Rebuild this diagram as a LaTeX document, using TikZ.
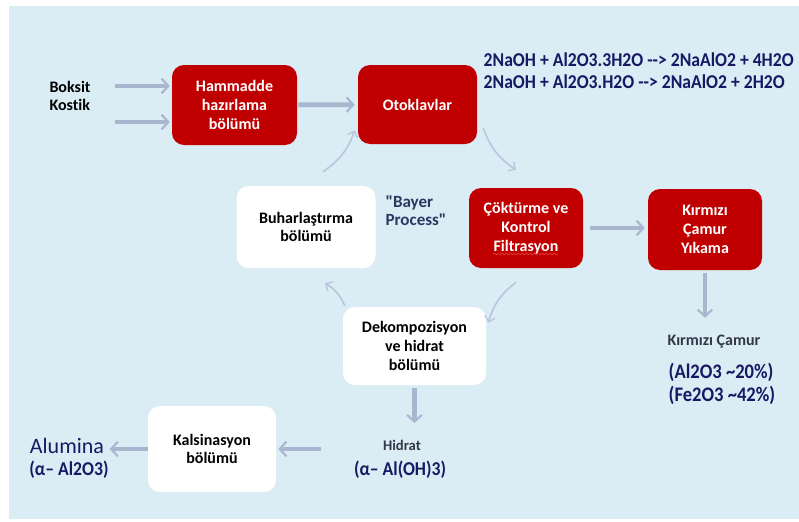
\documentclass[tikz,border=0pt]{standalone}
\usepackage{fontspec}
\setmainfont{Carlito}[Ligatures={TeX,NoCommon}]
\newfontfamily\condensedfont[FakeStretch=0.9]{Carlito}
\newfontfamily\plainfont[Ligatures=TeXOff]{Carlito}
\usepackage{tikz}
\usetikzlibrary{arrows.meta}
\usetikzlibrary{positioning}
\usetikzlibrary{decorations.pathmorphing}
\usepackage{xcolor}
\definecolor{bayerred}{RGB}{192,0,0}
\definecolor{bgblue}{RGB}{218,236,244}
\definecolor{arrowgray}{RGB}{170,181,208}
\definecolor{curvegray}{RGB}{186,197,222}
\definecolor{navytext}{RGB}{24,24,100}
\definecolor{slatetext}{RGB}{40,58,100}
\definecolor{greytext}{RGB}{50,56,72}
\definecolor{spellred}{RGB}{230,60,60}
\newcommand{\colorstep}{bayerred}
\newcommand{\colorflow}{arrowgray}
\newcommand{\colorcycle}{curvegray}
\newcommand{\px}{0.75pt}
\newcommand{\qt}{{\plainfont\symbol{34}}}
\tikzset{
    common/.style={rectangle, rounded corners=9pt, align=center, inner sep=2pt,
        font=\bfseries\fontsize{12}{14}\selectfont},
    redbox/.style={common, fill=\colorstep, text=white},
    whitebox/.style={common, fill=white, text=black},
    flow/.style={-{Straight Barb[length=5pt, width=11pt, line width=1.6pt]}, line width=3.6pt, \colorflow},
    cycle/.style={-{Straight Barb[length=4pt, width=8pt, line width=1pt]}, line width=1.2pt, \colorcycle},
    chem/.style={font=\condensedfont\bfseries\fontsize{14.7}{16.5}\selectfont, text=navytext},
    note/.style={text=greytext, font=\bfseries\fontsize{12}{14}\selectfont},
    spell/.style={spellred, line width=0.5pt, decorate, decoration={snake, segment length=3pt, amplitude=0.6pt}},
}

\begin{document}
\begin{tikzpicture}[x=\px, y=-\px]
    \useasboundingbox (0,0) rectangle (799,521);
    \fill[bgblue] (9,6) rectangle (799,519);

    \path
        (70,96) node[align=left, font=\bfseries\fontsize{12}{14}\selectfont] (inputs) {Boksit\\Kostik}
        (115,86) coordinate (boksit-in)
        (115,122) coordinate (kostik-in)
        (234.5,105) node[redbox, minimum width=125*\px, minimum height=80*\px] (hammadde) {Hammadde\\hazırlama\\bölümü}
        (417.5,104.5) node[redbox, minimum width=119*\px, minimum height=79*\px] (otoklavlar) {Otoklavlar}
        (479,71) node[chem, anchor=west, align=left] (reaction) {2NaOH + Al2O3.3H2O -{}-> 2NaAlO2 + 4H2O\\2NaOH + Al2O3.H2O -{}-> 2NaAlO2 + 2H2O}
        (306,227) node[whitebox, minimum width=139*\px, minimum height=82*\px] (buhar) {Buharlaştırma\\bölümü}
        (416,211) node[align=left, text=slatetext, font=\bfseries\fontsize{12.8}{13.5}\selectfont] (bayer) {\qt Bayer\\Process\qt}
        (526,228) node[redbox, minimum width=114*\px, minimum height=80*\px] (coktur) {Çöktürme ve\\Kontrol\\Filtrasyon}
        (705,229.5) node[redbox, minimum width=114*\px, minimum height=81*\px] (kirmizi) {Kırmızı\\Çamur\\Yıkama}
        (714,342) node[note] (camur) {Kırmızı Çamur}
        (722,384) node[chem, align=left, font=\condensedfont\bfseries\fontsize{15.5}{17}\selectfont] (camur-pct) {(Al2O3 \textasciitilde20\%)\\(Fe2O3 \textasciitilde42\%)}
        (414.5,346) node[whitebox, minimum width=143*\px, minimum height=78*\px] (dekomp) {Dekompozisyon\\ve hidrat\\bölümü}
        (402,445) node[note, font=\bfseries\fontsize{11}{13}\selectfont] (hidrat) {Hidrat}
        (400,470) node[chem] (hidrat-form) {(α– Al(OH)3)}
        (212,449) node[whitebox, minimum width=128*\px, minimum height=86*\px] (kalsin) {Kalsinasyon\\bölümü}
        (67,446) node[text=navytext, font=\fontsize{16.5}{20}\selectfont] (alumina) {Alumina}
        (69,470) node[chem] (alumina-form) {(α– Al2O3)};

    \draw[spell] ([shift={(-33,26)}]coktur.center) -- ([shift={(32,26)}]coktur.center);

    \draw[flow, shorten >=2*\px] (boksit-in) -- (boksit-in -| hammadde.west);
    \draw[flow, shorten >=2*\px] (kostik-in) -- (kostik-in -| hammadde.west);
    \draw[flow, shorten <=1*\px, shorten >=3*\px] (hammadde) -- (otoklavlar);
    \draw[flow, shorten <=7*\px, shorten >=3*\px] (coktur.east) -- (coktur.east -| kirmizi.west);
    \draw[flow, shorten <=3*\px, shorten >=13*\px] (kirmizi.south) -- (kirmizi.south |- camur.north);
    \draw[flow, shorten <=3*\px, shorten >=12*\px] (dekomp.south) -- (dekomp.south |- hidrat.north);
    \draw[flow, shorten <=28*\px, shorten >=2*\px] (kalsin.east -| hidrat-form.west) -- (kalsin.east);
    \draw[flow, shorten >=1*\px] (kalsin.west) -- (kalsin.west -| alumina.east);

    \draw[cycle] ([shift={(6,-16)}]otoklavlar.south east) to[bend right=18] ([shift={(-10,-18)}]coktur.north);
    \draw[cycle] ([shift={(-10,14)}]coktur.south) to[bend right=18] ([shift={(2,16)}]dekomp.north east);
    \draw[cycle] ([shift={(2,-1)}]dekomp.north west) to[bend right=18] ([shift={(19,15)}]buhar.south);
    \draw[cycle] ([shift={(17,-14)}]buhar.north) to[bend right=18] ([shift={(-3,-14)}]otoklavlar.south west);
\end{tikzpicture}
\end{document}
